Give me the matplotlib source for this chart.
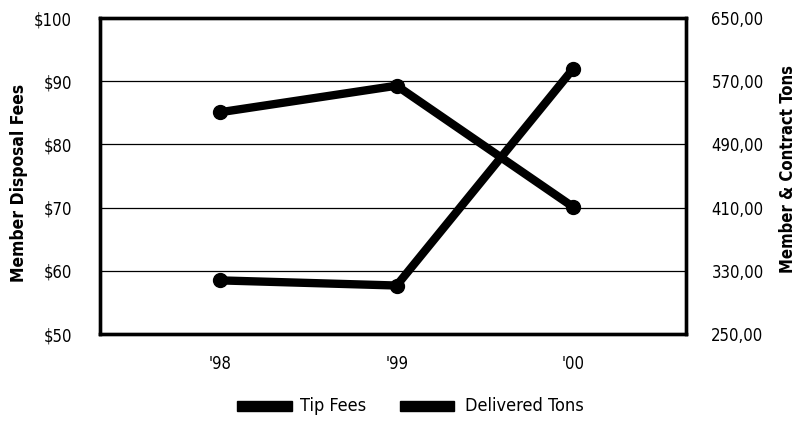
import matplotlib.pyplot as plt
from matplotlib.patches import Rectangle

# Data
years = ["'98", "'99", "'00"]
tip_fees = [85.1, 89.3, 70.1]            # left axis, dollars
delivered_tons = [318.0, 311.5, 586.0]   # right axis, tons

left_ticks = [50, 60, 70, 80, 90, 100]
left_labels = ["$50", "$60", "$70", "$80", "$90", "$100"]
right_ticks = [250, 330, 410, 490, 570, 650]
right_labels = ["250,00", "330,00", "410,00", "490,00", "570,00", "650,00"]

plt.rcParams['font.family'] = ['DejaVu Sans']
plt.rcParams['font.stretch'] = 'condensed'

fig = plt.figure(figsize=(7.99, 4.30), dpi=100)
ax = fig.add_axes([0.125, 0.223, 0.734, 0.735])
ax2 = ax.twinx()

x = list(range(len(years)))
ax.plot(x, tip_fees, color='black', lw=6, marker='o', ms=10,
        solid_capstyle='round', zorder=3)
ax2.plot(x, delivered_tons, color='black', lw=6, marker='o', ms=10,
         solid_capstyle='round', zorder=3)

ax.set_xlim(-0.68, 2.64)
ax.set_ylim(50, 100)
ax2.set_ylim(250, 650)

ax.set_yticks(left_ticks)
ax.set_yticklabels(left_labels)
ax2.set_yticks(right_ticks)
ax2.set_yticklabels(right_labels)
ax.set_xticks(x)
ax.set_xticklabels(years)

for a in (ax, ax2):
    a.tick_params(length=0, labelsize=12)
    for s in a.spines.values():
        s.set_linewidth(2.4)
ax.tick_params(axis='y', pad=20)
ax2.tick_params(axis='y', pad=18)
ax.tick_params(axis='x', pad=15)

ax.yaxis.grid(True, color='black', lw=0.9)
ax.set_axisbelow(True)

ax.set_ylabel("Member Disposal Fees", fontsize=12.5, fontweight='bold')
ax.yaxis.set_label_coords(-0.122, 0.478)
ax2.set_ylabel("Member & Contract Tons", fontsize=12, fontweight='bold')
ax2.yaxis.set_label_coords(1.158, 0.522)

# legend drawn below the plot
for hx, tx, label in [(0.297, 0.375, "Tip Fees"), (0.500, 0.582, "Delivered Tons")]:
    fig.patches.append(Rectangle((hx, 0.045), 0.068, 0.022, transform=fig.transFigure,
                                 color='black'))
    fig.text(tx, 0.056, label, fontsize=13, va='center', ha='left')

fig.savefig("out.png", dpi=100)
